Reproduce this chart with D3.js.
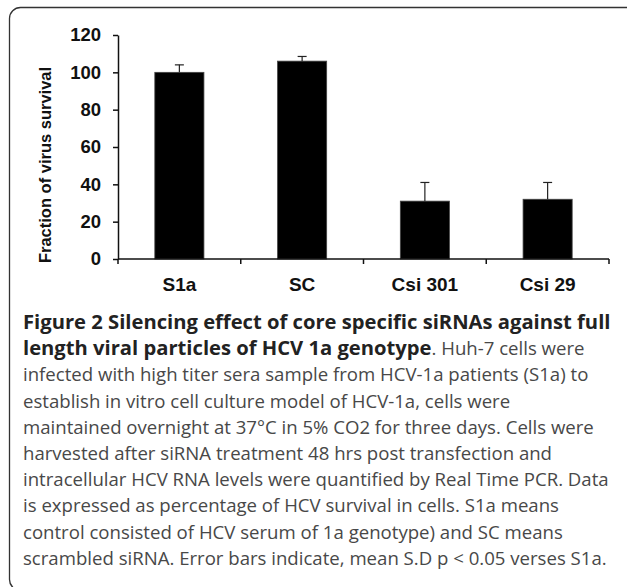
<!DOCTYPE html>
<html>
<head>
<meta charset="utf-8">
<script src="https://d3js.org/d3.v7.min.js"></script>
<style>
  html, body { margin: 0; padding: 0; background: #fff; }
  #chart { width: 627px; height: 587px; }
  .axis text { font-family: "Liberation Sans", Arial, sans-serif; font-weight: bold; fill: #111; }
  .axis path, .axis line { stroke: #111; stroke-width: 1.5px; }
  .caption { font-family: "Open Sans", "Noto Sans", sans-serif; font-size: 18.6px; fill: #484848; }
  .caption .bold { font-weight: bold; fill: #222; font-size: 20.2px; }
</style>
</head>
<body>
<div id="chart"></div>
<script>
// data
const categories = ["S1a", "SC", "Csi 301", "Csi 29"];
const survival = [100, 106, 31, 32];
const sdErr = [4, 2.5, 10, 9];
const yTicks = [0, 20, 40, 60, 80, 100, 120];

const captionLines = [
  [["Figure 2 Silencing effect of core specific siRNAs against full", true]],
  [["length viral particles of HCV 1a genotype", true], [". Huh-7 cells were", false]],
  [["infected with high titer sera sample from HCV-1a patients (S1a) to", false]],
  [["establish in vitro cell culture model of HCV-1a, cells were", false]],
  [["maintained overnight at 37\u00b0C in 5% CO2 for three days. Cells were", false]],
  [["harvested after siRNA treatment 48 hrs post transfection and", false]],
  [["intracellular HCV RNA levels were quantified by Real Time PCR. Data", false]],
  [["is expressed as percentage of HCV survival in cells. S1a means", false]],
  [["control consisted of HCV serum of 1a genotype) and SC means", false]],
  [["scrambled siRNA. Error bars indicate, mean S.D p < 0.05 verses S1a.", false]]
];

const w = 627, h = 587;

let svg = d3.select("#chart").append("svg")
  .attr("width", w)
  .attr("height", h);

// rounded frame, runs off the right and bottom edge
svg.append("rect")
  .attr("x", 9.5).attr("y", 7.5)
  .attr("width", 640).attr("height", 583)
  .attr("rx", 11)
  .attr("fill", "none")
  .attr("stroke", "#333")
  .attr("stroke-width", 1.3);

// scales
let x = d3.scaleBand()
  .domain(categories)
  .range([118, 609])
  .paddingInner(0.6)
  .paddingOuter(0.3);

let y = d3.scaleLinear()
  .domain([0, 120])
  .range([259, 35]);

// bars
svg.append("g")
  .selectAll("rect")
  .data(categories)
  .enter()
  .append("rect")
  .attr("x", d => x(d))
  .attr("y", (d, i) => y(survival[i]))
  .attr("width", x.bandwidth())
  .attr("height", (d, i) => y(0) - y(survival[i]))
  .attr("fill", "#000")
  .attr("stroke", "#444")
  .attr("stroke-width", 0.8);

// error bars (upper half only)
let err = svg.append("g")
  .selectAll("g")
  .data(categories)
  .enter()
  .append("g");

err.append("line")
  .attr("x1", d => x(d) + x.bandwidth() / 2)
  .attr("x2", d => x(d) + x.bandwidth() / 2)
  .attr("y1", (d, i) => y(survival[i]))
  .attr("y2", (d, i) => y(survival[i] + sdErr[i]))
  .attr("stroke", "#222")
  .attr("stroke-width", 1.2);

err.append("line")
  .attr("x1", d => x(d) + x.bandwidth() / 2 - 4.5)
  .attr("x2", d => x(d) + x.bandwidth() / 2 + 4.5)
  .attr("y1", (d, i) => y(survival[i] + sdErr[i]))
  .attr("y2", (d, i) => y(survival[i] + sdErr[i]))
  .attr("stroke", "#222")
  .attr("stroke-width", 1.2);

// y axis
let yAxis = d3.axisLeft(y)
  .tickValues(yTicks)
  .tickSize(5)
  .tickSizeOuter(0)
  .tickPadding(12);

svg.append("g")
  .attr("class", "axis")
  .attr("transform", "translate(118,0)")
  .call(yAxis)
  .selectAll("text")
  .style("font-size", "18.5px");

// x axis: labels under bars, ticks between categories
let xAxis = d3.axisBottom(x)
  .tickSize(0)
  .tickPadding(19);

let gx = svg.append("g")
  .attr("class", "axis")
  .attr("transform", "translate(0," + y(0) + ")")
  .call(xAxis);
gx.select(".domain").attr("d", "M118,0H609");
gx.selectAll("text").style("font-size", "19px");

let step = x.step();
let bounds = [x(categories[0]) + x.bandwidth() / 2 - step / 2]
  .concat(categories.map(c => x(c) + x.bandwidth() / 2 + step / 2));

gx.selectAll(".sep")
  .data(bounds)
  .enter()
  .append("line")
  .attr("class", "sep")
  .attr("x1", d => d).attr("x2", d => d)
  .attr("y1", 0).attr("y2", 5);

// y axis title
svg.append("text")
  .attr("transform", "translate(51,165) rotate(-90)")
  .attr("text-anchor", "middle")
  .style("font-family", "'Liberation Sans', Arial, sans-serif")
  .style("font-weight", "bold")
  .style("font-size", "16.5px")
  .attr("fill", "#111")
  .text("Fraction of virus survival");

// caption
let cap = svg.append("text")
  .attr("class", "caption");

captionLines.forEach((parts, i) => {
  let line = cap.append("tspan")
    .attr("x", 23)
    .attr("y", 329 + i * 26.2);
  parts.forEach(p => {
    line.append("tspan")
      .attr("class", p[1] ? "bold" : null)
      .text(p[0]);
  });
});
</script>
</body>
</html>
